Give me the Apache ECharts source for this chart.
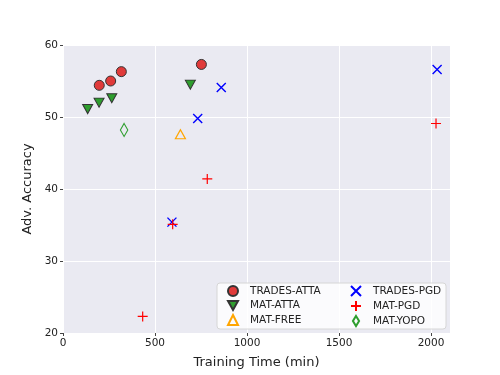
<!DOCTYPE html>
<html>
<head>
<meta charset="utf-8">
<script src="https://cdn.jsdelivr.net/npm/echarts@6/dist/echarts.min.js"></script>
<style>
  html, body { margin: 0; padding: 0; background: #fff; }
  #chart { width: 500px; height: 375px; }
</style>
</head>
<body>
<div id="chart"></div>
<script>
// training time (min), adv. accuracy
const tradesAttaTime = [197, 259, 317, 752]
const tradesAttaAcc = [54.4, 55.0, 56.3, 57.3]
const matAttaTime = [134, 196, 265, 692]
const matAttaAcc = [51.1, 52.0, 52.6, 54.5]
const matFreeTime = [638]
const matFreeAcc = [47.6]
const tradesPgdTime = [592, 732, 860, 2033]
const tradesPgdAcc = [35.4, 49.8, 54.1, 56.6]
const matPgdTime = [433, 596, 784, 2027]
const matPgdAcc = [22.3, 35.1, 41.4, 49.1]
const matYopoTime = [332]
const matYopoAcc = [48.2]
const xTicks = [0, 500, 1000, 1500, 2000]
const yTicks = [20, 30, 40, 50, 60]

const font = 'DejaVu Sans'
const pts = (xs, ys) => xs.map((x, i) => [x, ys[i]])

const crossPath = 'path://M0,0L10,10M10,0L0,10'
const plusPath = 'path://M5,0L5,10M0,5L10,5'
const downTri = 'path://M0,0L10,0L5,9Z'
const thinDiamond = 'path://M4,0L8,6.5L4,13L0,6.5Z'

const chart = echarts.init(document.getElementById('chart'))

const legendText = { fontFamily: font, fontSize: 10.5, color: '#222', padding: [0, 0, 0, 7] }

const option = {
  animation: false,
  backgroundColor: '#fff',
  grid: { left: 63, right: 50, top: 45, bottom: 42, backgroundColor: '#EAEAF2', show: true, borderWidth: 0 },
  xAxis: {
    type: 'value',
    min: 0,
    max: 2103,
    interval: 500,
    name: 'Training Time (min)',
    nameLocation: 'middle',
    nameGap: 23,
    nameTextStyle: { fontFamily: font, fontSize: 13, color: '#222' },
    axisLine: { show: false },
    axisTick: { show: true, length: 3, lineStyle: { color: '#444' }, customValues: xTicks },
    axisLabel: { fontFamily: font, fontSize: 10.5, color: '#222', margin: 5, customValues: xTicks, formatter: v => String(v) },
    splitLine: { show: true, lineStyle: { color: '#fff', width: 1 } }
  },
  yAxis: {
    type: 'value',
    min: 20,
    max: 60,
    interval: 10,
    name: 'Adv. Accuracy',
    nameLocation: 'middle',
    nameGap: 22,
    nameTextStyle: { fontFamily: font, fontSize: 13, color: '#222' },
    axisLine: { show: false },
    axisTick: { show: true, length: 3, lineStyle: { color: '#444' }, customValues: yTicks },
    axisLabel: { fontFamily: font, fontSize: 10.5, color: '#222', margin: 5, customValues: yTicks, formatter: v => String(v) },
    splitLine: { show: true, lineStyle: { color: '#fff', width: 1 } }
  },
  graphic: [{
    type: 'rect',
    shape: { x: 217, y: 283, width: 229, height: 46, r: 3 },
    style: { fill: 'rgba(255,255,255,0.8)', stroke: '#d6d6d6', lineWidth: 1 },
    z: 10
  }],
  legend: [
    {
      data: ['TRADES-ATTA', 'MAT-ATTA', 'MAT-FREE'],
      orient: 'vertical',
      left: 222, top: 280,
      itemWidth: 10, itemHeight: 10, itemGap: 3,
      textStyle: legendText,
      z: 11
    },
    {
      data: ['TRADES-PGD', 'MAT-PGD', 'MAT-YOPO'],
      orient: 'vertical',
      left: 345, top: 280,
      itemWidth: 10, itemHeight: 10, itemGap: 3,
      textStyle: legendText,
      z: 11
    }
  ],
  series: [
    {
      name: 'TRADES-ATTA', type: 'scatter', symbol: 'circle', symbolSize: 10,
      itemStyle: { color: '#E03A3A', borderColor: '#333', borderWidth: 1, opacity: 1 },
      data: pts(tradesAttaTime, tradesAttaAcc)
    },
    {
      name: 'MAT-ATTA', type: 'scatter', symbol: downTri, symbolSize: [10, 9],
      itemStyle: { color: '#2E9E2E', borderColor: '#333', borderWidth: 1, opacity: 1 },
      data: pts(matAttaTime, matAttaAcc)
    },
    {
      name: 'MAT-FREE', type: 'scatter', symbol: 'triangle', symbolSize: [10, 9],
      itemStyle: { color: 'rgba(0,0,0,0)', borderColor: '#FFA500', borderWidth: 1.2, opacity: 1 },
      data: pts(matFreeTime, matFreeAcc)
    },
    {
      name: 'TRADES-PGD', type: 'scatter', symbol: crossPath, symbolSize: 9,
      itemStyle: { color: 'rgba(0,0,0,0)', borderColor: '#0000FF', borderWidth: 1.4, opacity: 1 },
      data: pts(tradesPgdTime, tradesPgdAcc)
    },
    {
      name: 'MAT-PGD', type: 'scatter', symbol: plusPath, symbolSize: 10,
      itemStyle: { color: 'rgba(0,0,0,0)', borderColor: '#FF0000', borderWidth: 1.2, opacity: 1 },
      data: pts(matPgdTime, matPgdAcc)
    },
    {
      name: 'MAT-YOPO', type: 'scatter', symbol: thinDiamond, symbolKeepAspect: true, symbolSize: [12, 13],
      itemStyle: { color: 'rgba(0,0,0,0)', borderColor: '#2E9E2E', borderWidth: 1.1, opacity: 1 },
      data: pts(matYopoTime, matYopoAcc)
    }
  ]
}

chart.setOption(option)
</script>
</body>
</html>
